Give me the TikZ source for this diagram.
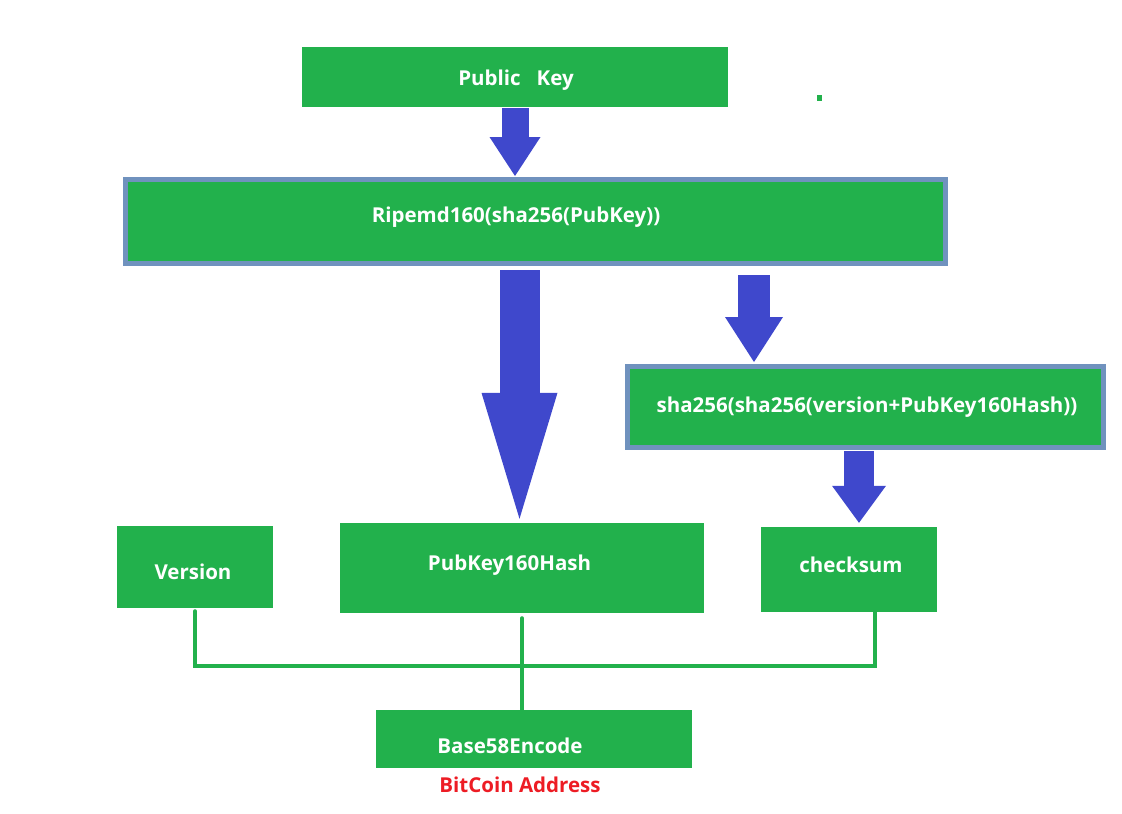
\documentclass[tikz,border=0pt]{standalone}
\usepackage{fontspec}
\setmainfont{Open Sans}
\usetikzlibrary{arrows.meta,calc}
\definecolor{boxgreen}{RGB}{34,177,76}
\definecolor{arrowblue}{RGB}{63,72,204}
\definecolor{edgeblue}{RGB}{112,146,190}
\definecolor{addrred}{RGB}{237,28,36}
\tikzset{
box/.style={fill=boxgreen, inner sep=0pt},
framed/.style={box, draw=edgeblue, line width=5pt},
lbl/.style={anchor=base, inner sep=0pt, text=white, font=\bfseries\fontsize{20.5}{24}\selectfont},
link/.style={draw=boxgreen, line width=4pt, line cap=round},
blockarrow/.style n args={3}{draw=arrowblue, line width=#1, -{Triangle[width=#2, length=#3, line width=0pt]}}
}
\begin{document}
\begin{tikzpicture}[x=1pt,y=-1pt]
\useasboundingbox (0,0) rectangle (1122,814);
\node[box, minimum width=426, minimum height=60] (pubkey) at (515,77) {};
\node[framed, minimum width=820, minimum height=84] (ripemd) at (535.5,221.5) {};
\node[framed, minimum width=476, minimum height=81] (sha) at (865.5,407) {};
\node[box, minimum width=156, minimum height=82] (version) at (195,567) {};
\node[box, minimum width=364, minimum height=90] (pkhash) at (522,568) {};
\node[box, minimum width=176, minimum height=85] (checksum) at (849,569.5) {};
\node[box, minimum width=316, minimum height=58] (base) at (534,739) {};
\fill[boxgreen] (817,95) rectangle (822,101);
\node[lbl] (pubkeytxt) at (516,85) {Public\ \ \ Key};
\node[lbl] (ripemdtxt) at (516,222) {Ripemd160(sha256(PubKey))};
\node[lbl] (shatxt) at (867,412.5) {sha256(sha256(version+PubKey160Hash))};
\node[lbl] (versiontxt) at (193,579) {Version};
\node[lbl] (pkhashtxt) at (509.5,570) {PubKey160Hash};
\node[lbl] (checksumtxt) at (851,572.5) {checksum};
\node[lbl] (basetxt) at (510,753) {Base58Encode};
\node[lbl, text=addrred] (addr) at (520,792) {BitCoin Address};
\draw[blockarrow={27pt}{51pt}{39pt}, shorten <=1pt, shorten >=1pt] (pubkey.south) -- (pubkey.south |- ripemd.north);
\draw[blockarrow={40pt}{76pt}{126pt}, shorten <=4pt, shorten >=4pt] ([xshift=-2.5pt]pkhash.north |- ripemd.south) -- ([xshift=-2.5pt]pkhash.north);
\draw[blockarrow={32pt}{58pt}{45pt}, shorten <=9pt, shorten >=2pt] ([xshift=-111.5pt]sha.north |- ripemd.south) -- ([xshift=-111.5pt]sha.north);
\draw[blockarrow={30pt}{54pt}{37pt}, shorten <=1pt, shorten >=4pt] ([xshift=10pt]checksum.north |- sha.south) -- ([xshift=10pt]checksum.north);
\coordinate (joint) at (pkhash.south |- 0,666);
\draw[link, shorten <=3pt] (version.south) |- (joint);
\draw[link] (joint) -| ([xshift=26pt]checksum.south);
\draw[link, shorten <=5pt] (pkhash.south) -- (pkhash.south |- base.north);
\end{tikzpicture}
\end{document}
